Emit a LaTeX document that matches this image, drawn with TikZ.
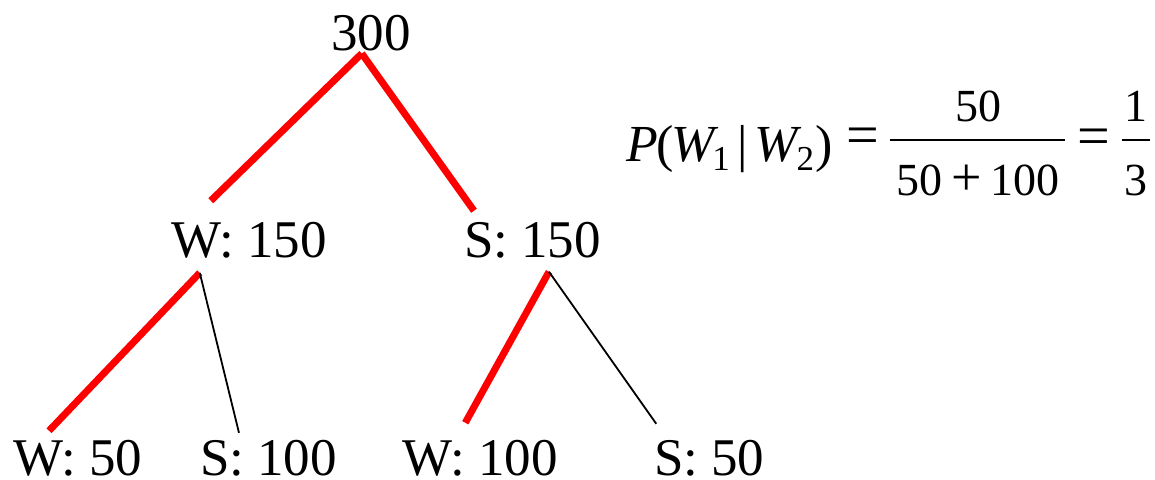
\documentclass[tikz,border=0pt]{standalone}
\usepackage{fontspec}
\setmainfont{Liberation Serif}
\newcommand{\subsc}[1]{\raisebox{-9pt}{\fontsize{35}{40}\selectfont #1}}
\tikzset{
  lbl/.style={inner sep=0pt, outer sep=0pt, anchor=base west, font=\fontsize{53}{60}\selectfont},
  eqtxt/.style={inner sep=0pt, outer sep=0pt, font=\fontsize{52}{60}\selectfont},
  fractxt/.style={inner sep=0pt, outer sep=0pt, anchor=base, font=\fontsize{46}{54}\selectfont},
  fracbar/.style={fill=black, inner sep=0pt, minimum height=2pt},
  hot/.style={draw=red, line width=7pt},
  thin/.style={draw=black, line width=1.8pt}
}
\begin{document}
\begin{tikzpicture}[x=1pt,y=-1pt]
\useasboundingbox (0,0) rectangle (1155,479);
% tree nodes
\node[lbl] (root) at (331,50) {300};
\node[lbl] (w150) at (171,257) {W: 150};
\node[lbl] (s150) at (464,257) {S: 150};
\node[lbl] (w50) at (13,475) {W: 50};
\node[lbl] (s100) at (200,475) {S: 100};
\node[lbl] (w100) at (402,475) {W: 100};
\node[lbl] (s50) at (654,475) {S: 50};
% formula
\node[eqtxt, anchor=base west] (lhs) at (626,161)
  {\textit{P}\kern-1pt(\kern-3pt\textit{W}\kern-6pt\subsc{1}\kern8pt|\kern6pt\textit{W}\kern-5pt\subsc{2}\kern1pt)};
\node[eqtxt, anchor=center, font=\fontsize{58}{60}\selectfont] (eqa) at (863,141.5) {=};
\node[fractxt] (numa) at (978,121) {50};
\node[fracbar, minimum width=175pt] (bara) at (977.5,140) {};
\node[fractxt] (dena) at (978,195) {50\kern9pt{\fontsize{54}{54}\selectfont +}\kern9pt100};
\node[eqtxt, anchor=center, font=\fontsize{58}{60}\selectfont] (eqb) at (1093.5,142.5) {=};
\node[fractxt] (numb) at (1136,121) {1};
\node[fracbar, minimum width=28pt] (barb) at (1136,140) {};
\node[fractxt] (denb) at (1136,195) {3};
% connectors
\draw[hot] ([shift={(-9,3)}]root.south) -- ([shift={(-38,-21)}]w150.north);
\draw[hot] ([shift={(-9,3)}]root.south) -- ([shift={(-58.5,-11)}]s150.north);
\draw[hot] ([shift={(-49,15)}]w150.south) -- ([shift={(-28.5,-9)}]w50.north);
\draw[thin] ([shift={(-49,15)}]w150.south) -- ([shift={(-29.5,-7)}]s100.north);
\draw[hot] ([shift={(16.5,14)}]s150.south) -- ([shift={(-14.5,-17)}]w100.north);
\draw[thin] ([shift={(16.5,14)}]s150.south) -- ([shift={(-53,-16)}]s50.north);
\end{tikzpicture}
\end{document}
